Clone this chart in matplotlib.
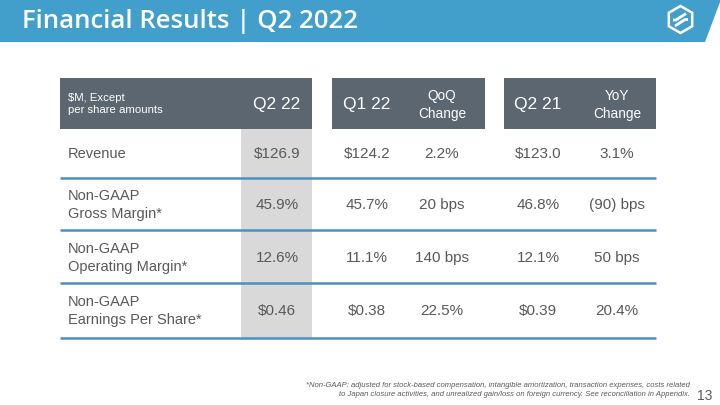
import matplotlib

matplotlib.use("Agg")

import matplotlib.pyplot as plt
from matplotlib.patches import Polygon, Rectangle, RegularPolygon

plt.rcParams["font.family"] = ["Liberation Sans", "DejaVu Sans"]

title = "Financial Results | Q2 2022"
corner_label = ["$M, Except", "per share amounts"]
col_headers = ["Q2 22", "Q1 22", "QoQ\nChange", "Q2 21", "YoY\nChange"]
row_labels = ["Revenue", "Non-GAAP\nGross Margin*", "Non-GAAP\nOperating Margin*", "Non-GAAP\nEarnings Per Share*"]
q2_22 = ["$126.9", "45.9%", "12.6%", "$0.46"]
q1_22 = ["$124.2", "45.7%", "11.1%", "$0.38"]
qoq = ["2.2%", "20 bps", "140 bps", "22.5%"]
q2_21 = ["$123.0", "46.8%", "12.1%", "$0.39"]
yoy = ["3.1%", "(90) bps", "50 bps", "20.4%"]
footnote = [
    "*Non-GAAP: adjusted for stock-based compensation, intangible amortization, transaction expenses, costs related",
    "to Japan closure activities, and unrealized gain/loss on foreign currency. See reconciliation in Appendix.",
]
page_no = "13"

BLUE = "#429fcb"
DARK = "#5b6670"
GREY = "#d9d9d9"
LINE = "#4a90c2"
TEXT = "#595959"

fig = plt.figure(figsize=(7.2, 4.05), dpi=100)
ax = fig.add_axes([0, 0, 1, 1])
ax.set_xlim(0, 720)
ax.set_ylim(405, 0)
ax.axis("off")

# banner
ax.add_patch(Polygon([(0, 0), (720, 0), (720, 2), (705, 42), (0, 42)], closed=True, color=BLUE, lw=0))
ax.text(22, 21, title, color="white", fontsize=18.5, va="center", ha="left",
        family=["Open Sans", "DejaVu Sans"], weight="semibold")

# logo
ax.add_patch(RegularPolygon((680.5, 19.5), 6, radius=13.5, orientation=0, fill=False, ec="white", lw=1.8))
ax.plot([673, 676, 686], [20, 20, 13.5], color="white", lw=2.0, solid_capstyle="butt")
ax.plot([675, 685, 688], [26, 19.5, 19.5], color="white", lw=2.0, solid_capstyle="butt")

# table layout
col_x = [277, 367, 442, 538, 617]
row_y = [154, 205, 258, 311]
line_y = [178, 230, 283, 338]
head_top, head_bot = 78, 129
boxes = [(60, 312), (332, 485), (504, 656)]

ax.add_patch(Rectangle((241, head_bot), 312 - 241, line_y[-1] - head_bot, color=GREY, lw=0))
for x0, x1 in boxes:
    ax.add_patch(Rectangle((x0, head_top), x1 - x0, head_bot - head_top, color=DARK, lw=0))

ax.text(68, 104, "\n".join(corner_label), color="white", fontsize=8.2, va="center", ha="left", linespacing=1.35)
for x, h in zip(col_x, col_headers):
    if "\n" in h:
        ax.text(x, 105, h, color="white", fontsize=9.8, va="center", ha="center", linespacing=1.45)
    else:
        ax.text(x, 104, h, color="white", fontsize=12.5, va="center", ha="center")

for y in line_y:
    ax.plot([60, 656], [y, y], color=LINE, lw=1.8, solid_capstyle="butt")

columns = [q2_22, q1_22, qoq, q2_21, yoy]
for i, (y, label) in enumerate(zip(row_y, row_labels)):
    ax.text(68, y, label, color=TEXT, fontsize=10.5, va="center", ha="left", linespacing=1.45)
    for x, col in zip(col_x, columns):
        ax.text(x, y, col[i], color=TEXT, fontsize=11, va="center", ha="center")

ax.text(690, 390, "\n".join(footnote), color=TEXT, fontsize=5.5, style="italic",
        va="center", ha="right", multialignment="right", linespacing=1.5)
ax.text(697, 396, page_no, color=TEXT, fontsize=10, va="center", ha="left")

fig.savefig("out.png", dpi=100)
